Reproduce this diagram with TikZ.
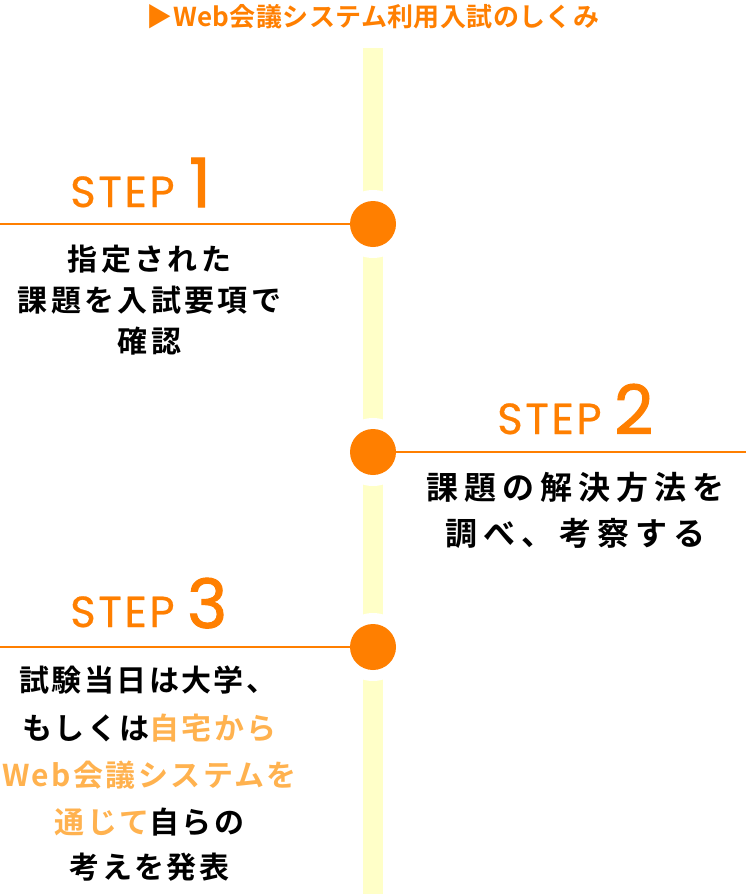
\documentclass[tikz,border=0pt]{standalone}
\usepackage{fontspec}
\newfontfamily\jp{Noto Sans CJK JP}[BoldFont={* Bold}]
\newfontfamily\stepfont{Poppins}
\newfontfamily\numfont{Poppins}[FakeBold=1.6]
\definecolor{orng}{HTML}{FF7F00}
\definecolor{lorng}{HTML}{FFB24F}
\definecolor{barylw}{HTML}{FFFFC8}
\begin{document}
\begin{tikzpicture}[x=1pt,y=-1pt,
  body/.style={inner sep=0pt,anchor=base,text=black},
  steplbl/.style={inner sep=0pt,anchor=base west,text=orng},
  dot/.style={circle,fill=orng,minimum size=46pt,inner sep=0pt},
  ring/.style={circle,fill=white,minimum size=68pt,inner sep=0pt},
  tick/.style={draw=orng,line width=2pt}]
\useasboundingbox (0,0) rectangle (746,894);
\fill[white] (0,0) rectangle (746,894);
% title
\node[inner sep=0pt,anchor=base,text=orng] (title) at (373,27)
  {\jp\bfseries\fontsize{26}{28}\selectfont\addfontfeature{LetterSpace=1.5}▶Web会議システム利用入試のしくみ};
% bar
\fill[barylw] (363,48) rectangle (383,894);
% rings
\node[ring] (r1) at (373,224) {};
\node[ring] (r2) at (373,452) {};
\node[ring] (r3) at (373,647) {};
% lines
\coordinate (l1) at (0,224);
\coordinate (l2) at (746,452);
\coordinate (l3) at (0,647);
\node[dot] (d1) at (373,224) {};
\node[dot] (d2) at (373,452) {};
\node[dot] (d3) at (373,647) {};
\draw[tick] (l1) -- (d1.west);
\draw[tick] (d2.east) -- (l2);
\draw[tick] (l3) -- (d3.west);
% step labels
\tikzset{stp/.style={font=\stepfont\fontsize{43.5}{46}\selectfont\addfontfeature{LetterSpace=6,FakeBold=0.6}},
         num/.style={font=\numfont\fontsize{68}{70}\selectfont}}
\node[steplbl,stp] (st1) at (70,207) {STEP};
\node[steplbl,num] (n1) at (189,207) {1};
\node[steplbl,stp] (st2) at (497,434) {STEP};
\node[steplbl,num] (n2) at (614,434) {2};
\node[steplbl,stp] (st3) at (70,627) {STEP};
\node[steplbl,num] (n3) at (187,628) {3};
% step 1 text
\tikzset{bt1/.style={font=\jp\bfseries\fontsize{30}{32}\selectfont\addfontfeature{LetterSpace=11}}}
\node[body,bt1] (a1) at (149.5,270) {指定された};
\node[body,bt1] (a2) at (149.5,311) {課題を入試要項で};
\node[body,bt1] (a3) at (149.5,352) {確認};
% step 2 text
\tikzset{bt2/.style={font=\jp\bfseries\fontsize{32}{34}\selectfont\addfontfeature{LetterSpace=19}}}
\node[body,bt2] (b1) at (575.5,499) {課題の解決方法を};
\node[body,bt2] (b2) at (575.5,545) {調べ、考察する};
% step 3 text
\tikzset{bt3/.style={font=\jp\bfseries\fontsize{30}{32}\selectfont\addfontfeature{LetterSpace=8}}}
\node[body,bt3] (c1) at (148,691) {試験当日は大学、};
\node[body,bt3] (c2) at (149.5,739) {もしくは\textcolor{lorng}{自宅から}};
\node[body,bt3,text=lorng] (c3) at (149.5,786) {Web会議システムを};
\node[body,bt3] (c4) at (149.5,833) {\textcolor{lorng}{通じて}自らの};
\node[body,bt3] (c5) at (149.5,878) {考えを発表};
\end{tikzpicture}
\end{document}
